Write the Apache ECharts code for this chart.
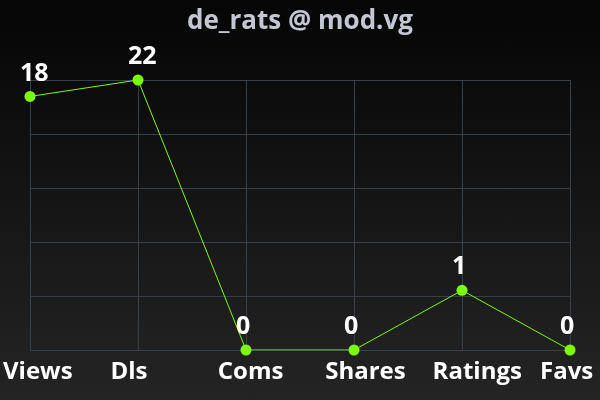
<!DOCTYPE html>
<html>
<head>
<meta charset="utf-8">
<script src="https://cdn.jsdelivr.net/npm/echarts@6/dist/echarts.min.js"></script>
<style>
html,body{margin:0;padding:0;}
#c{width:600px;height:400px;background:linear-gradient(to bottom,#050505 0%,#151515 50%,#242424 100%);}
</style>
</head>
<body>
<div id="c"></div>
<script>
var categories = ['Views', 'Dls', 'Coms', 'Shares', 'Ratings', 'Favs'];
var values = [18, 22, 0, 0, 1, 0];
var title = 'de_rats @ mod.vg';

var scaled = values.map(function (v) { return Math.log10(v + 1); });
var yMax = Math.log10(Math.max.apply(null, values) + 1);

var chart = echarts.init(document.getElementById('c'));
chart.setOption({
  backgroundColor: 'transparent',
  animation: false,
  title: {
    text: title,
    left: 'center',
    top: 4,
    textStyle: { color: '#c3c7d3', fontSize: 26, fontWeight: 'bold', fontFamily: 'Open Sans' }
  },
  grid: [
    { left: 30, right: 30, top: 80, bottom: 50, containLabel: false },
    { left: 0, right: 60, top: 80, bottom: 50, containLabel: false }
  ],
  xAxis: [{
    type: 'category',
    gridIndex: 0,
    boundaryGap: false,
    data: categories,
    axisLine: { show: false },
    axisTick: { show: false },
    splitLine: { show: true, lineStyle: { color: '#393f49', width: 1 } },
    axisLabel: { show: false }
  }, {
    type: 'category',
    gridIndex: 1,
    boundaryGap: false,
    data: categories,
    axisLine: { show: false },
    axisTick: { show: false },
    splitLine: { show: false },
    axisLabel: {
      color: '#ffffff', fontSize: 24, fontWeight: 'bold', fontFamily: 'Open Sans',
      margin: 10, interval: 0, align: 'left', showMinLabel: true, showMaxLabel: true
    }
  }],
  yAxis: [{
    type: 'value',
    gridIndex: 0,
    min: 0,
    max: yMax,
    interval: yMax / 5,
    axisLine: { show: false },
    axisTick: { show: false },
    axisLabel: { show: false },
    splitLine: { show: true, lineStyle: { color: '#393f49', width: 1 } }
  }, {
    type: 'value',
    gridIndex: 1,
    show: false
  }],
  series: [{
    type: 'line',
    xAxisIndex: 0,
    yAxisIndex: 0,
    data: scaled,
    symbol: 'circle',
    symbolSize: 11,
    itemStyle: { color: '#7cfc00' },
    lineStyle: { color: '#7cfc00', width: 1 },
    label: {
      show: true,
      position: 'top',
      distance: 5,
      align: 'left',
      offset: [-10, 0],
      color: '#ffffff',
      fontSize: 25,
      fontWeight: 'bold',
      fontFamily: 'Open Sans',
      formatter: function (p) { return values[p.dataIndex]; }
    }
  }]
});
</script>
</body>
</html>
